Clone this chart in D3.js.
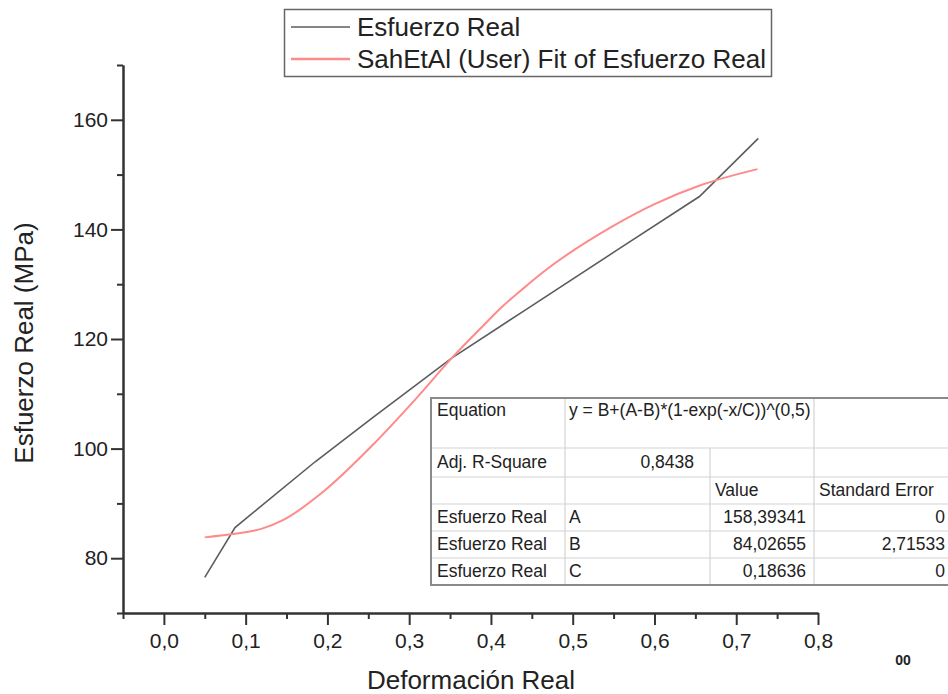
<!DOCTYPE html>
<html>
<head>
<meta charset="utf-8">
<script src="https://cdn.jsdelivr.net/npm/d3@7"></script>
<style>
  body { margin: 0; background: #fff; }
  svg { display: block; font-family: 'Liberation Sans', Arial, sans-serif; }
  .axis path, .axis line { stroke: #333; stroke-width: 2; }
  .axis text { font-size: 21px; fill: #222; }
  .cell { font-size: 17.5px; fill: #222; }
</style>
</head>
<body>
<div id="chart"></div>
<script>
// measured data (Esfuerzo Real vs Deformación Real)
const strainReal = [0.05, 0.087, 0.185, 0.255, 0.352, 0.44, 0.555, 0.655, 0.727];
const stressReal = [76.5, 85.6, 97.6, 105.6, 116.5, 125.1, 136.3, 146.0, 156.6];

// fitted curve
const fitStrain = [0.05, 0.084, 0.12, 0.145, 0.197, 0.255, 0.307, 0.352, 0.389, 0.413, 0.437, 0.462, 0.547, 0.6, 0.657, 0.726];
const fitStress = [83.8, 84.4, 85.4, 86.9, 92.4, 100.6, 108.9, 116.5, 122.2, 125.8, 128.9, 132.0, 140.4, 144.6, 148.1, 151.0];

// axis ticks
const xMajor = [0, 0.1, 0.2, 0.3, 0.4, 0.5, 0.6, 0.7, 0.8];
const xMinor = [-0.05, 0.05, 0.15, 0.25, 0.35, 0.45, 0.55, 0.65, 0.75];
const yMajor = [80, 100, 120, 140, 160];
const yMinor = [70, 90, 110, 130, 150, 170];

const legendLabels = ['Esfuerzo Real', 'SahEtAl (User) Fit of Esfuerzo Real'];
const seriesColors = ['#5c5c5c', '#ff8a8a'];

// fit results table
const equationText = 'y = B+(A-B)*(1-exp(-x/C))^(0,5)';
const adjRSquare = '0,8438';
const paramNames = ['A', 'B', 'C'];
const paramValues = ['158,39341', '84,02655', '0,18636'];
const paramErrors = ['0', '2,71533', '0'];

const width = 948;
const height = 694;

const svg = d3.select('#chart')
  .append('svg')
  .attr('width', width)
  .attr('height', height);

const x = d3.scaleLinear().domain([-0.05, 0.8]).range([123, 818]);
const y = d3.scaleLinear().domain([70, 170]).range([613, 65]);

const comma = f => d => d3.format(f)(d).replace('.', ',');

// minor ticks first
svg.append('g')
  .attr('class', 'axis')
  .attr('transform', `translate(0, ${y(70)})`)
  .call(d3.axisBottom(x).tickValues(xMinor).tickSize(6).tickSizeOuter(0).tickFormat(''));

svg.append('g')
  .attr('class', 'axis')
  .attr('transform', `translate(${x(-0.05)}, 0)`)
  .call(d3.axisLeft(y).tickValues(yMinor).tickSize(6).tickSizeOuter(0).tickFormat(''));

// major ticks + labels
svg.append('g')
  .attr('class', 'axis')
  .attr('transform', `translate(0, ${y(70)})`)
  .call(d3.axisBottom(x).tickValues(xMajor).tickSize(12).tickSizeOuter(0).tickPadding(8).tickFormat(comma('.1f')));

svg.append('g')
  .attr('class', 'axis')
  .attr('transform', `translate(${x(-0.05)}, 0)`)
  .call(d3.axisLeft(y).tickValues(yMajor).tickSize(12).tickSizeOuter(0).tickPadding(3).tickFormat(d3.format('d')));

// axis titles
svg.append('text')
  .attr('x', 471)
  .attr('y', 689)
  .attr('text-anchor', 'middle')
  .attr('font-size', 26)
  .attr('fill', '#222')
  .text('Deformación Real');

svg.append('text')
  .attr('transform', 'translate(33, 343) rotate(-90)')
  .attr('text-anchor', 'middle')
  .attr('font-size', 26)
  .attr('fill', '#222')
  .text('Esfuerzo Real (MPa)');

// the lines
const line = d3.line()
  .x(d => x(d[0]))
  .y(d => y(d[1]));

svg.append('path')
  .attr('fill', 'none')
  .attr('stroke', seriesColors[0])
  .attr('stroke-width', 1.6)
  .attr('d', line(d3.zip(strainReal, stressReal)));

svg.append('path')
  .attr('fill', 'none')
  .attr('stroke', seriesColors[1])
  .attr('stroke-width', 2)
  .attr('d', line.curve(d3.curveMonotoneX)(d3.zip(fitStrain, fitStress)));

// legend
const legend = svg.append('g');
legend.append('rect')
  .attr('x', 284.5).attr('y', 9.5)
  .attr('width', 487).attr('height', 67)
  .attr('fill', '#fff')
  .attr('stroke', '#666')
  .attr('stroke-width', 1.5);

legendLabels.forEach((label, i) => {
  const ly = 27 + i * 32;
  legend.append('line')
    .attr('x1', 291).attr('x2', 350)
    .attr('y1', ly).attr('y2', ly)
    .attr('stroke', seriesColors[i])
    .attr('stroke-width', i ? 2.4 : 1.6);
  legend.append('text')
    .attr('x', 357).attr('y', ly + 9)
    .attr('font-size', 26)
    .attr('fill', '#222')
    .text(label);
});

// fit table
const colX = [431, 565, 710, 814, 970];
const rowY = [398, 448, 477, 504, 531, 558, 585];
const table = svg.append('g');

table.append('rect')
  .attr('x', colX[0]).attr('y', rowY[0])
  .attr('width', colX[4] - colX[0]).attr('height', rowY[6] - rowY[0])
  .attr('fill', '#fff');

// inner grid
rowY.slice(1, -1).forEach(ry => {
  table.append('line')
    .attr('x1', colX[0]).attr('x2', colX[4])
    .attr('y1', ry).attr('y2', ry)
    .attr('stroke', '#d4d4d4').attr('stroke-width', 1.2);
});
[[1, 0], [2, 1], [3, 0]].forEach(([c, r0]) => {
  table.append('line')
    .attr('x1', colX[c]).attr('x2', colX[c])
    .attr('y1', rowY[r0]).attr('y2', rowY[6])
    .attr('stroke', '#d4d4d4').attr('stroke-width', 1.2);
});

table.append('rect')
  .attr('x', colX[0]).attr('y', rowY[0])
  .attr('width', colX[4] - colX[0]).attr('height', rowY[6] - rowY[0])
  .attr('fill', 'none')
  .attr('stroke', '#8a8a8a')
  .attr('stroke-width', 2);

const cell = (tx, ty, txt, anchor = 'start') => table.append('text')
  .attr('class', 'cell')
  .attr('x', tx).attr('y', ty)
  .attr('dy', '0.35em')
  .attr('text-anchor', anchor)
  .text(txt);

cell(437, 410, 'Equation');
cell(569, 410, equationText);
cell(437, 462, 'Adj. R-Square');
cell(694, 462, adjRSquare, 'end');
cell(715, 490, 'Value');
cell(819, 490, 'Standard Error');

paramNames.forEach((p, i) => {
  const ry = 517 + i * 27;
  cell(437, ry, 'Esfuerzo Real');
  cell(569, ry, p);
  cell(806, ry, paramValues[i], 'end');
  cell(945, ry, paramErrors[i], 'end');
});

// stray label at bottom right
svg.append('text')
  .attr('x', 903).attr('y', 665)
  .attr('text-anchor', 'middle')
  .attr('font-size', 14)
  .attr('font-weight', 'bold')
  .attr('fill', '#222')
  .text('00');
</script>
</body>
</html>
